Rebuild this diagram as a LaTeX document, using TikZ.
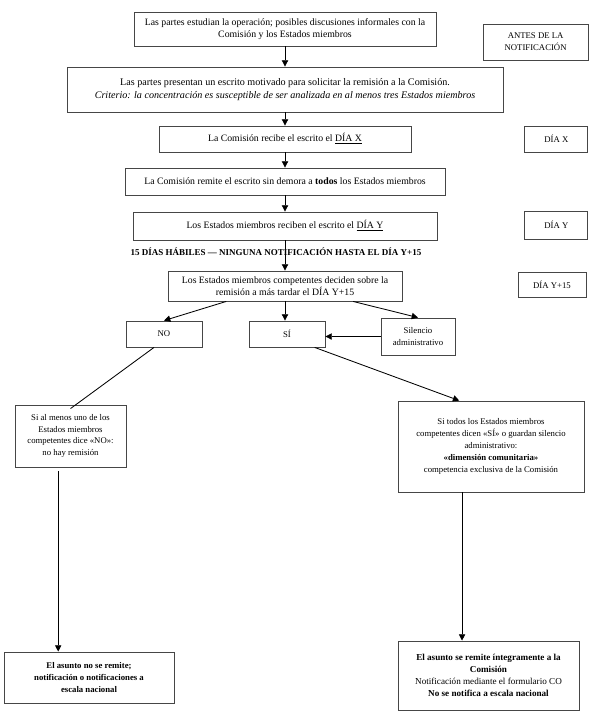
\documentclass[tikz,border=0pt]{standalone}
\usepackage{fontspec}
\setmainfont{Liberation Serif}
\usepackage{tikz}
\usetikzlibrary{arrows.meta, positioning, calc}
\definecolor{cajagris}{RGB}{70,70,70}
\newcommand{\diagfont}{\fontsize{6.2}{8.4}\selectfont}
\newcommand{\altofont}{\fontsize{6.95}{8.8}\selectfont}

\begin{document}
\begin{tikzpicture}[
        caja/.style={draw=cajagris, line width=0.6pt, align=center, font=\diagfont,
                     inner sep=2pt},
        cajaalta/.style={caja, font=\altofont},
        diabox/.style={caja, minimum height=0.65cm},
        arr/.style={-{Triangle[length=4.5pt, width=4.5pt]}, line width=0.6pt},
        linea/.style={line width=0.6pt}
      ]
        \useasboundingbox (0,0) rectangle (15.1,-18);
        % fase previa
        \node[cajaalta, minimum width=7.55cm, minimum height=0.85cm] (estudian) at (7.125,-0.725)
          {Las partes estudian la operación; posibles discusiones informales con la\\
           Comisión y los Estados miembros};
        \node[caja, minimum width=2.625cm, minimum height=0.9cm] (antes) at (13.39,-1.05)
          {ANTES DE LA\\ NOTIFICACIÓN};
        \node[caja, font=\fontsize{7.2}{9}\selectfont, minimum width=10.9cm, minimum height=1.125cm] (presentan) at (7.125,-2.2375)
          {Las partes presentan un escrito motivado para solicitar la remisión a la Comisión.\\
           \textit{Criterio: la concentración es susceptible de ser analizada en al menos tres Estados miembros}};
        % plazos
        \node[cajaalta, minimum width=6.3cm, minimum height=0.65cm] (recibe) at (7.125,-3.475)
          {La Comisión recibe el escrito el \underline{DÍA X}};
        \node[diabox, minimum width=1.575cm] (diax) at (13.91,-3.475) {DÍA X};
        \node[cajaalta, minimum width=8cm, minimum height=0.675cm] (remite) at (7.125,-4.5375)
          {La Comisión remite el escrito sin demora a \textbf{todos} los Estados miembros};
        \node[cajaalta, minimum width=7.6cm, minimum height=0.7cm] (reciben) at (7.125,-5.65)
          {Los Estados miembros reciben el escrito el \underline{DÍA Y}};
        \node[diabox, minimum width=1.575cm, minimum height=0.7cm] (diay) at (13.91,-5.625) {DÍA Y};
        \node[font=\fontsize{6.4}{8}\selectfont\bfseries, inner sep=0pt] (plazo) at (6.9,-6.3)
          {15 DÍAS HÁBILES — NINGUNA NOTIFICACIÓN HASTA EL DÍA Y+15};
        \node[cajaalta, minimum width=5.85cm, minimum height=0.75cm] (deciden) at (7.125,-7.15)
          {Los Estados miembros competentes deciden sobre la\\ remisión a más tardar el DÍA Y+15};
        \node[diabox, minimum width=1.7cm, minimum height=0.625cm] (diayq) at (13.8,-7.1125) {DÍA Y+15};
        % respuestas
        \node[caja, minimum width=1.9cm, minimum height=0.65cm] (no) at (4.1,-8.35) {NO};
        \node[caja, minimum width=1.9cm, minimum height=0.65cm] (si) at (7.175,-8.35) {SÍ};
        \node[caja, minimum width=1.85cm, minimum height=0.925cm] (silencio) at (10.45,-8.4125)
          {Silencio\\ administrativo};
        \node[caja, minimum width=2.775cm, minimum height=1.55cm] (alguno) at (1.7625,-10.9)
          {Si al menos uno de los\\ Estados miembros\\ competentes dice «NO»:\\ no hay remisión};
        \node[caja, minimum width=4.65cm, minimum height=2.275cm] (todos) at (12.275,-11.1625)
          {Si todos los Estados miembros\\ competentes dicen «SÍ» o guardan silencio\\
           administrativo:\\ \textbf{«dimensión comunitaria»}\\ competencia exclusiva de la Comisión};
        % resultado
        \node[caja, font=\diagfont\bfseries, minimum width=4.25cm, minimum height=1.275cm] (noremite) at (2.225,-16.9375)
          {El asunto no se remite;\\ notificación o notificaciones a\\ escala nacional};
        \node[caja, font=\fontsize{6.5}{8.6}\selectfont, minimum width=4.525cm, minimum height=1.725cm] (seremite) at (12.2125,-16.8875)
          {\textbf{El asunto se remite íntegramente a la}\\ \textbf{Comisión}\\
           Notificación mediante el formulario CO\\ \textbf{No se notifica a escala nacional}};

        \draw[arr] (estudian) -- (presentan);
        \draw[arr] (presentan) -- (recibe);
        \draw[arr] (recibe) -- (remite);
        \draw[arr] (remite) -- (reciben);
        \draw[arr] (reciben) -- (deciden);
        \draw[arr] ($(deciden.south west)!0.25!(deciden.south east)$) -- (no.north);
        \draw[arr] (deciden.south) -- (deciden.south |- si.north);
        \draw[arr] ($(deciden.south west)!0.79!(deciden.south east)$) -- (silencio.north);
        \draw[arr] (silencio.west) -- (silencio.west -| si.east);
        \draw[linea] ($(no.south west)!0.37!(no.south east)$) -- ([yshift=-0.1cm]alguno.north);
        \draw[arr] ($(si.south west)!0.86!(si.south east)$) -- ($(todos.north west)!0.33!(todos.north east)$);
        \coordinate (algbajo) at ([yshift=-0.1cm]$(alguno.south west)!0.39!(alguno.south east)$);
        \draw[arr] (algbajo) -- (algbajo |- noremite.north);
        \coordinate (todbajo) at ($(todos.south west)!0.345!(todos.south east)$);
        \draw[arr] (todbajo) -- (todbajo |- seremite.north);
      \end{tikzpicture}
\end{document}
